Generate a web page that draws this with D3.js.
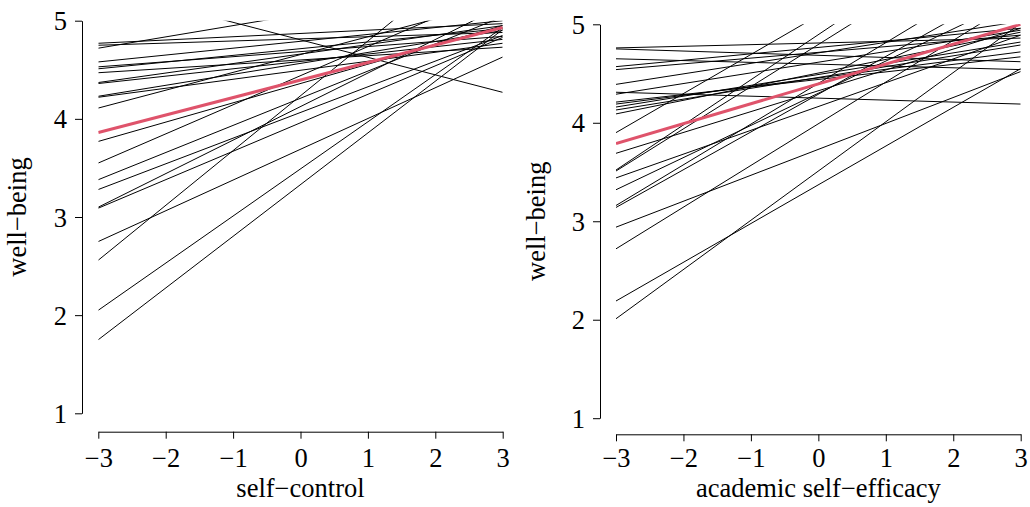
<!DOCTYPE html>
<html>
<head>
<meta charset="utf-8">
<script src="https://cdn.jsdelivr.net/npm/d3@7"></script>
<style>
  html, body { margin: 0; padding: 0; background: #fff; }
  svg { display: block; }
  text { font-family: "Liberation Serif", "Times New Roman", serif; fill: #000; }
</style>
</head>
<body>
<svg id="chart" width="1030" height="507"></svg>
<script>
// Per-person regression lines: predicted well-being at x = -3 and x = 3
const selfControlStart = [4.77, 4.75, 4.72, 4.58, 4.53, 4.51, 4.47, 4.37, 4.36, 4.23, 4.22, 4.11,
                          3.77, 3.55, 3.38, 3.28, 3.10, 3.09, 2.75, 2.56, 2.05, 1.75, 5.34];
const selfControlEnd   = [4.97, 4.88, 5.41, 5.00, 4.84, 4.92, 4.73, 4.95, 4.81, 4.90, 4.77, 5.20,
                          4.95, 5.33, 5.04, 4.85, 5.15, 4.83, 4.63, 5.91, 4.93, 4.91, 4.27];
const selfControlMean  = [3.86, 4.93];

const efficacyStart = [4.76, 4.75, 4.65, 4.57, 4.54, 4.39, 4.31, 4.29, 4.21, 4.19, 4.16, 4.13, 4.09,
                       3.90, 3.69, 3.52, 3.51, 3.44, 3.32, 3.16, 3.14, 2.94, 2.72, 2.19, 2.01];
const efficacyEnd   = [4.86, 4.62, 4.54, 4.96, 4.89, 5.03, 4.19, 4.94, 4.67, 4.72, 4.82, 4.79, 4.92,
                       6.28, 4.96, 6.27, 6.08, 4.89, 5.28, 5.64, 5.44, 4.52, 5.26, 4.55, 5.01];
const efficacyMean  = [3.79, 5.00];

const xTicks = [-3, -2, -1, 0, 1, 2, 3];
const yTicks = [1, 2, 3, 4, 5];
const xDomain = [-3, 3];
const yDomain = [1, 5];

const panels = [
  { id: "sc", starts: selfControlStart, ends: selfControlEnd, mean: selfControlMean,
    xTitle: "self\u2212control", yTitle: "well\u2212being",
    xRange: [98.3, 502.7], yRange: [413.3, 20.7], yAxisX: 82, xAxisY: 431.7, yTitleX: 26 },
  { id: "ase", starts: efficacyStart, ends: efficacyEnd, mean: efficacyMean,
    xTitle: "academic self\u2212efficacy", yTitle: "well\u2212being",
    xRange: [616, 1020.7], yRange: [418.2, 24.3], yAxisX: 600, xAxisY: 434.3, yTitleX: 545 }
];

const svg = d3.select("#chart");
const fmt = d => d < 0 ? "\u2212" + Math.abs(d) : String(d);

panels.forEach(p => {
  const x = d3.scaleLinear().domain(xDomain).range(p.xRange);
  const y = d3.scaleLinear().domain(yDomain).range(p.yRange);
  const g = svg.append("g");

  // clip to the plotting region
  const clipId = "clip-" + p.id;
  g.append("clipPath").attr("id", clipId)
    .append("rect")
    .attr("x", x(-3)).attr("y", y(5))
    .attr("width", x(3) - x(-3)).attr("height", y(1) - y(5));

  const lines = p.starts.map((s, i) => [[-3, s], [3, p.ends[i]]]);
  const lineGen = d3.line().x(d => x(d[0])).y(d => y(d[1]));

  const plot = g.append("g").attr("clip-path", `url(#${clipId})`);
  plot.selectAll("path.person")
    .data(lines)
    .join("path")
    .attr("class", "person")
    .attr("d", lineGen)
    .attr("fill", "none")
    .attr("stroke", "#000")
    .attr("stroke-width", 1);

  plot.append("path")
    .datum([[-3, p.mean[0]], [3, p.mean[1]]])
    .attr("d", lineGen)
    .attr("fill", "none")
    .attr("stroke", "#DF536B")
    .attr("stroke-width", 3);

  // x axis
  const xAxis = d3.axisBottom(x).tickValues(xTicks).tickFormat(fmt).tickSizeOuter(0).tickSizeInner(7);
  const gx = g.append("g").attr("transform", `translate(0,${p.xAxisY})`).call(xAxis);
  gx.select(".domain").attr("stroke", "#000").attr("stroke-width", 1);
  gx.selectAll(".tick line").attr("stroke", "#000");
  gx.selectAll(".tick text").attr("font-size", 26.5)
    .attr("font-family", "Liberation Serif").attr("fill", "#000")
    .attr("dy", null)
    .attr("y", 467 - p.xAxisY);

  // y axis
  const yAxis = d3.axisLeft(y).tickValues(yTicks).tickFormat(fmt).tickSizeOuter(0).tickSizeInner(7);
  const gy = g.append("g").attr("transform", `translate(${p.yAxisX},0)`).call(yAxis);
  gy.select(".domain").attr("stroke", "#000").attr("stroke-width", 1);
  gy.selectAll(".tick line").attr("stroke", "#000");
  gy.selectAll(".tick text").attr("font-size", 26.5)
    .attr("font-family", "Liberation Serif").attr("fill", "#000")
    .attr("dy", "0.34em").attr("x", -15);

  // axis titles
  g.append("text")
    .attr("x", (p.xRange[0] + p.xRange[1]) / 2)
    .attr("y", 497)
    .attr("text-anchor", "middle")
    .attr("font-size", 26.5)
    .text(p.xTitle);

  g.append("text")
    .attr("transform", `translate(${p.yTitleX},${(p.yRange[0] + p.yRange[1]) / 2}) rotate(-90)`)
    .attr("text-anchor", "middle")
    .attr("font-size", 26.5)
    .text(p.yTitle);
});
</script>
</body>
</html>
